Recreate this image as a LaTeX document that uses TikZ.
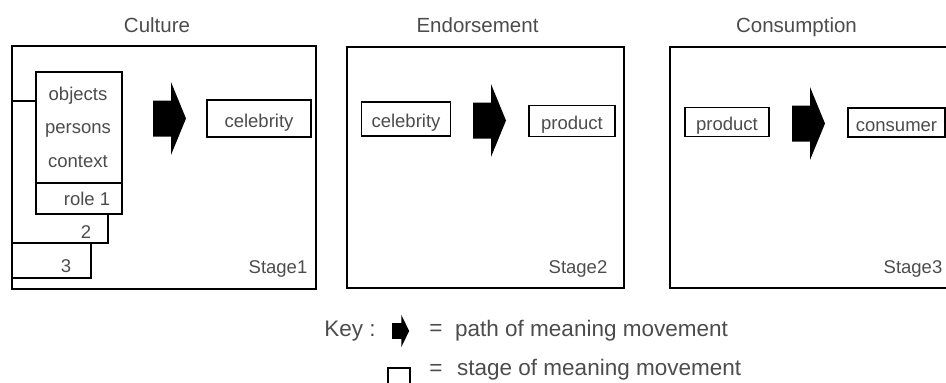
\documentclass[tikz,border=0pt]{standalone}
\usepackage{fontspec}
\setmainfont{Liberation Sans}
\usepackage{tikz}
\usetikzlibrary{arrows.meta}
\usetikzlibrary{calc}
\usetikzlibrary{positioning}

\begin{document}
\begin{tikzpicture}[x=1pt, y=-1pt,
            txt/.style={font=\fontsize{18.5}{20}\selectfont, text=black!70, inner sep=0pt},
            keytxt/.style={font=\fontsize{22.5}{24}\selectfont, text=black!70, inner sep=0pt},
            ttl/.style={font=\fontsize{20.5}{22}\selectfont, text=black!70, inner sep=0pt, anchor=base},
            stagebox/.style={draw, line width=2pt, inner sep=0pt},
            stackbox/.style={draw, line width=1.8pt, fill=white, inner sep=0pt},
            itembox/.style={draw, line width=1.8pt, fill=white, inner sep=0pt, txt, text height=17pt, text depth=0pt},
            blockarrow/.pic={\fill (0,-18) -- (18,-18) -- (18,-36.5) -- (33,0) -- (18,36.5) -- (18,18) -- (0,18) -- cycle;}]
            \useasboundingbox (0,0) rectangle (946,383);
            \clip (0,0) rectangle (946,383);

            \draw (157,32) node[ttl]                 (culture) {Culture};
            \draw (477.5,32) node[ttl]               (endorse) {Endorsement};
            \draw (796.5,32) node[ttl]               (consume) {Consumption};

            \draw (164,167.5) node[stagebox, minimum width=304, minimum height=243]   (stage1) {};
            \draw (485.5,167.5) node[stagebox, minimum width=277, minimum height=241] (stage2) {};
            \draw (815,167.5) node[stagebox, minimum width=290, minimum height=241]   (stage3) {};

            \draw (51.5,204) node[stackbox, minimum width=79, minimum height=148]  (layer3) {};
            \draw (60,172) node[stackbox, minimum width=96, minimum height=142]    (layer2) {};
            \draw (79,127.5) node[stackbox, minimum width=86, minimum height=111]  (layer1) {};
            \draw (79,198.5) node[stackbox, minimum width=86, minimum height=31]   (role) {};
            \draw (78,100) node[txt, anchor=base]    (objects) {objects};
            \draw (78,133) node[txt, anchor=base]    (persons) {persons};
            \draw (78,167) node[txt, anchor=base]    (context) {context};
            \draw (87,205) node[txt, anchor=base]    (role1) {role 1};
            \draw (86,238) node[txt, anchor=base]    (role2) {2};
            \draw (66,272) node[txt, anchor=base]    (role3) {3};

            \draw (259,118.5) node[itembox, minimum width=104, minimum height=37] (celeb1) {celebrity};
            \draw (406,119) node[itembox, minimum width=89, minimum height=34]    (celeb2) {celebrity};
            \draw (572,121) node[itembox, minimum width=86, minimum height=31]    (prod2) {product};
            \draw (727,122) node[itembox, minimum width=84, minimum height=29]    (prod3) {product};
            \draw (896.5,122.5) node[itembox, minimum width=97, minimum height=29] (consumer) {consumer};

            \pic at (153,118.5) {blockarrow};
            \pic at (473,120.5) {blockarrow};
            \pic at (792,123.5) {blockarrow};

            \draw (278,273) node[txt, anchor=base]   (s1) {Stage1};
            \draw (578,273) node[txt, anchor=base]   (s2) {Stage2};
            \draw (913,273) node[txt, anchor=base]   (s3) {Stage3};

            \draw (350,336) node[keytxt, anchor=base] (key) {Key :};
            \pic[xscale=0.52, yscale=0.44] at (392,331) {blockarrow};
            \draw (436,330) node[keytxt]                (eq1) {=};
            \draw (455,336) node[keytxt, anchor=base west] (pathtxt) {path of meaning movement};
            \draw (387,367) node[stagebox, line width=1.8pt, anchor=north west, minimum width=22, minimum height=30] (keybox) {};
            \draw (436,370) node[keytxt]                (eq2) {=};
            \draw (457,375) node[keytxt, anchor=base west] (stagetxt) {stage of meaning movement};

            \end{tikzpicture}
\end{document}
